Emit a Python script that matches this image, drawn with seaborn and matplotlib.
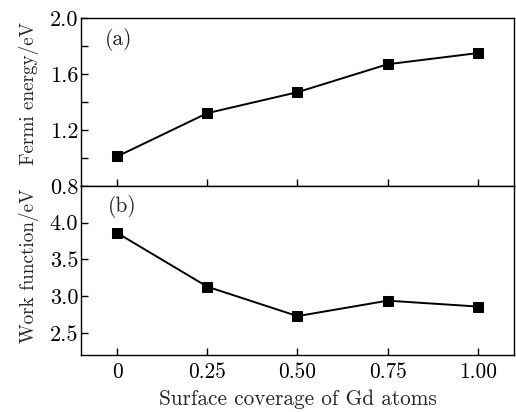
import seaborn as sns
import matplotlib.pyplot as plt
import pandas as pd

coverage = [0, 0.25, 0.50, 0.75, 1.00]
fermi = [1.01, 1.32, 1.47, 1.67, 1.75]
work = [3.86, 3.13, 2.73, 2.94, 2.86]
xtick_labels = ["0", "0.25", "0.50", "0.75", "1.00"]

df = pd.DataFrame({"coverage": coverage, "fermi": fermi, "work": work})

sns.set_style("ticks")
plt.rcParams['font.family'] = ['cmr10', 'DejaVu Serif']
plt.rcParams['axes.formatter.use_mathtext'] = True
plt.rcParams['xtick.direction'] = 'in'
plt.rcParams['ytick.direction'] = 'in'

fig = plt.figure(figsize=(5.16, 4.12), dpi=100)
ax1 = fig.add_axes([0.157, 0.549, 0.839, 0.407])
ax2 = fig.add_axes([0.157, 0.138, 0.839, 0.411])

# (a) Fermi energy
sns.lineplot(data=df, x="coverage", y="fermi", ax=ax1, color="black",
             marker="s", markersize=6.5, linewidth=1.4, markeredgecolor="black")
ax1.set_xlim(-0.1, 1.1)
ax1.set_ylim(0.8, 2.0)
ax1.set_yticks([0.8, 1.2, 1.6, 2.0])
ax1.set_yticklabels(["0.8", "1.2", "1.6", "2.0"])
ax1.set_yticks([1.0, 1.4, 1.8], minor=True)
ax1.set_xticks(coverage)
ax1.tick_params(axis="x", labelbottom=False)
ax1.set_xlabel("")
ax1.set_ylabel("Fermi energy/eV", fontsize=13.8)
ax1.yaxis.set_label_coords(-0.098, 0.55)
ax1.text(0.055, 0.87, "(a)", transform=ax1.transAxes, fontsize=15.5, va="center")

# (b) Work function
sns.lineplot(data=df, x="coverage", y="work", ax=ax2, color="black",
             marker="s", markersize=6.5, linewidth=1.4, markeredgecolor="black")
ax2.set_xlim(-0.1, 1.1)
ax2.set_ylim(2.2, 4.5)
ax2.set_yticks([2.5, 3.0, 3.5, 4.0])
ax2.set_yticklabels(["2.5", "3.0", "3.5", "4.0"])
ax2.set_xticks(coverage)
ax2.set_xticklabels(xtick_labels)
ax2.set_xlabel("Surface coverage of Gd atoms", fontsize=15.3, labelpad=6)
ax2.set_ylabel("Work function/eV", fontsize=13.8)
ax2.yaxis.set_label_coords(-0.098, 0.525)
ax2.text(0.062, 0.876, "(b)", transform=ax2.transAxes, fontsize=15.5, va="center")

for ax in (ax1, ax2):
    for s in ax.spines.values():
        s.set_linewidth(1.0)
        s.set_color("black")
    ax.tick_params(which="both", length=5, width=1.0, colors="black")
    ax.tick_params(axis="y", labelsize=16, pad=2)
    ax.tick_params(axis="x", labelsize=15.3, pad=5)

fig.savefig("out.png", dpi=100)
